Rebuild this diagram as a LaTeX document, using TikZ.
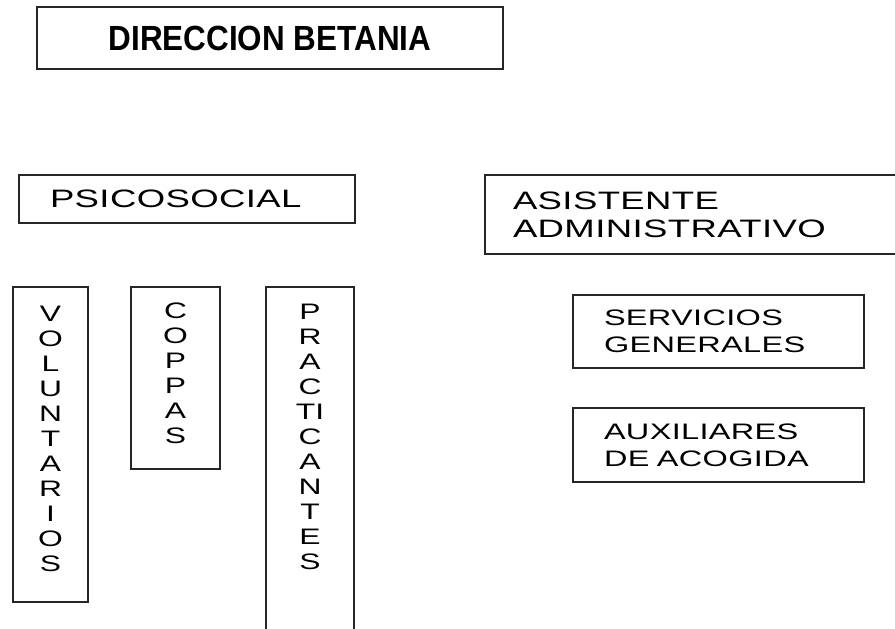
\documentclass[tikz,border=0pt]{standalone}
\usepackage{fontspec}
\setmainfont{Liberation Sans}
\newfontfamily\widesans[FakeStretch=1.45,LetterSpace=1.5]{Liberation Sans}
\newfontfamily\tallsans[FakeStretch=1.42]{Liberation Sans}
\newfontfamily\titlesans[FakeStretch=0.9]{Liberation Sans}
\usetikzlibrary{positioning}

\begin{document}
\begin{tikzpicture}[x=0.75pt, y=-0.75pt,
    box/.style={draw=black!85, line width=1.1pt, inner sep=0pt},
    areabox/.style={box, align=left, inner xsep=23.25pt, font=\widesans\fontsize{18.9}{21}\selectfont},
    unitbox/.style={box, align=left, inner xsep=23.25pt, font=\widesans\fontsize{16.8}{20.25}\selectfont},
    columnbox/.style={box, align=center, font=\tallsans\fontsize{16.8}{18.75}\selectfont}]
    \useasboundingbox (0,0) rectangle (895,628);
    \clip (0,0) rectangle (895,628);

    \node[box, minimum width=349.5pt, minimum height=46.5pt, font=\titlesans\bfseries\fontsize{26.2}{30}\selectfont] (dir) at (270,38) {DIRECCION BETANIA};

    \node[areabox, text width=205.5pt, minimum height=36pt] (psico) at (187,199) {PSICOSOCIAL};
    \node[areabox, inner xsep=21pt, text width=288pt, minimum height=59.25pt] (asist) at (705,214.5) {ASISTENTE\\ADMINISTRATIVO};

    % columnas bajo psicosocial
    \node[columnbox, minimum width=56.25pt, minimum height=236.25pt] (volunt) at (50.5,444.5) {V\\O\\L\\U\\N\\T\\A\\R\\I\\O\\S\rule[-9pt]{0pt}{9pt}};
    \node[columnbox, minimum width=66.75pt, minimum height=136.5pt] (coppas) at (175.5,378) {C\\O\\P\\P\\A\\S\rule[-7.5pt]{0pt}{7.5pt}};
    \node[columnbox, minimum width=66pt, minimum height=279.75pt] (practic) at (310,473.5) {P\\R\\A\\C\\TI\\C\\A\\N\\T\\E\\S\rule[-55.5pt]{0pt}{55.5pt}};

    % bajo asistente
    \node[unitbox, text width=171.75pt, minimum height=54.75pt] (serv) at (718.5,331.5) {SERVICIOS\\GENERALES};
    \node[unitbox, text width=171.75pt, minimum height=55.5pt] (aux) at (718.5,445) {AUXILIARES\\DE ACOGIDA};
\end{tikzpicture}
\end{document}
